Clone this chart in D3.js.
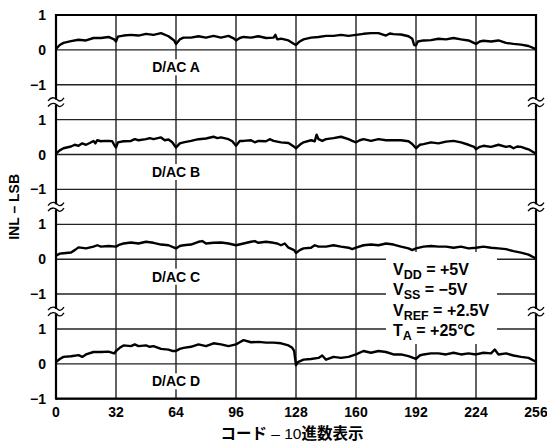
<!DOCTYPE html>
<html>
<head>
<meta charset="utf-8">
<script src="https://cdn.jsdelivr.net/npm/d3@7"></script>
<style>
  html, body { margin: 0; padding: 0; background: #fff; }
  svg { display: block; }
  text { font-family: "Liberation Sans", Arial, "Noto Sans CJK JP", sans-serif; font-weight: bold; fill: #000; }
</style>
</head>
<body>
<svg id="chart" width="547" height="444"></svg>
<script>
// INL (LSB) versus input code for each of the four DAC channels
const panelNames = ["D/AC A", "D/AC B", "D/AC C", "D/AC D"];
const xTicks = [0, 32, 64, 96, 128, 160, 192, 224, 256];
const yTicks = [1, 0, -1];
const yTickLabels = ["1", "0", "\u22121"];
const legendLines = [
  ["V", "DD", " = +5V"],
  ["V", "SS", " = \u22125V"],
  ["V", "REF", " = +2.5V"],
  ["T", "A", " = +25\u00B0C"]
];

const inlA = [[0,0.03],[2,0.14],[4,0.20],[8,0.25],[12,0.29],[16,0.27],[20,0.34],[24,0.34],[28,0.37],[31,0.30],[32,0.24],[33,0.38],[36,0.41],[40,0.43],[44,0.41],[48,0.46],[52,0.43],[56,0.48],[60,0.39],[63,0.27],[64,0.17],[66,0.30],[68,0.35],[72,0.35],[76,0.39],[80,0.35],[84,0.40],[88,0.35],[92,0.40],[95,0.32],[96,0.27],[98,0.34],[100,0.37],[104,0.35],[108,0.39],[112,0.34],[116,0.35],[117,0.43],[118,0.30],[120,0.32],[124,0.27],[127,0.17],[128,0.14],[130,0.24],[132,0.30],[136,0.35],[140,0.37],[144,0.40],[148,0.40],[152,0.43],[156,0.40],[160,0.43],[164,0.46],[168,0.48],[172,0.48],[176,0.41],[178,0.47],[180,0.45],[184,0.44],[188,0.39],[190,0.32],[191,0.14],[192,0.13],[193,0.24],[196,0.27],[200,0.28],[204,0.32],[208,0.30],[212,0.34],[216,0.30],[220,0.27],[224,0.17],[226,0.24],[228,0.26],[232,0.24],[236,0.27],[240,0.20],[244,0.17],[248,0.15],[252,0.11],[256,0.02]];

const inlB = [[0,0.03],[2,0.12],[4,0.18],[8,0.23],[10,0.28],[12,0.25],[14,0.32],[16,0.28],[18,0.33],[20,0.39],[21,0.32],[22,0.41],[24,0.38],[26,0.39],[28,0.39],[30,0.38],[31,0.28],[32,0.20],[33,0.35],[36,0.38],[40,0.39],[42,0.44],[44,0.41],[48,0.44],[50,0.47],[52,0.44],[56,0.49],[58,0.41],[60,0.43],[62,0.35],[64,0.20],[66,0.32],[68,0.35],[72,0.39],[76,0.44],[80,0.46],[84,0.51],[86,0.47],[88,0.49],[92,0.44],[94,0.38],[96,0.25],[98,0.39],[100,0.39],[104,0.41],[106,0.35],[108,0.39],[112,0.38],[114,0.44],[116,0.39],[120,0.35],[124,0.33],[127,0.22],[128,0.18],[130,0.28],[132,0.35],[136,0.41],[138,0.38],[139,0.57],[140,0.44],[142,0.39],[144,0.44],[148,0.47],[152,0.51],[156,0.44],[158,0.39],[160,0.35],[162,0.41],[164,0.44],[168,0.39],[172,0.44],[176,0.41],[180,0.41],[184,0.41],[188,0.38],[190,0.30],[192,0.18],[194,0.28],[196,0.30],[200,0.35],[204,0.32],[208,0.37],[212,0.39],[216,0.35],[220,0.28],[223,0.22],[224,0.15],[226,0.22],[228,0.25],[232,0.22],[236,0.28],[240,0.22],[242,0.24],[244,0.18],[246,0.23],[248,0.22],[250,0.18],[252,0.15],[256,0.02]];

const inlC = [[0,0.10],[2,0.16],[4,0.17],[8,0.19],[10,0.26],[12,0.34],[16,0.31],[20,0.36],[22,0.40],[24,0.36],[28,0.38],[32,0.36],[34,0.42],[36,0.45],[40,0.48],[44,0.45],[48,0.50],[52,0.47],[56,0.42],[60,0.40],[64,0.31],[66,0.38],[68,0.40],[72,0.42],[76,0.50],[78,0.52],[80,0.45],[84,0.47],[88,0.48],[92,0.45],[96,0.40],[100,0.45],[104,0.50],[106,0.52],[108,0.47],[112,0.50],[116,0.47],[118,0.45],[120,0.40],[122,0.45],[124,0.33],[127,0.26],[128,0.18],[130,0.26],[132,0.31],[136,0.33],[138,0.40],[140,0.36],[144,0.36],[148,0.40],[152,0.36],[156,0.33],[158,0.29],[160,0.33],[164,0.40],[168,0.42],[172,0.40],[176,0.45],[180,0.42],[184,0.36],[188,0.31],[190,0.26],[192,0.31],[196,0.36],[200,0.38],[204,0.36],[208,0.36],[212,0.33],[216,0.36],[220,0.31],[224,0.33],[228,0.36],[232,0.33],[236,0.31],[240,0.29],[244,0.23],[248,0.19],[252,0.13],[256,0.02]];

const inlD = [[0,0.05],[2,0.14],[4,0.20],[8,0.22],[12,0.25],[14,0.20],[16,0.27],[20,0.34],[24,0.34],[28,0.35],[31,0.30],[32,0.37],[34,0.46],[36,0.53],[40,0.51],[42,0.56],[44,0.51],[48,0.53],[50,0.49],[52,0.51],[56,0.43],[60,0.41],[62,0.37],[64,0.37],[66,0.43],[68,0.46],[72,0.49],[76,0.56],[80,0.51],[84,0.59],[88,0.56],[92,0.51],[96,0.56],[98,0.62],[100,0.68],[104,0.62],[108,0.63],[112,0.61],[116,0.61],[120,0.59],[124,0.53],[126,0.46],[127,0.37],[128,-0.04],[129,0.05],[132,0.12],[136,0.14],[140,0.17],[142,0.24],[144,0.12],[148,0.20],[152,0.17],[156,0.20],[160,0.27],[164,0.37],[168,0.32],[172,0.37],[176,0.34],[180,0.27],[184,0.27],[188,0.22],[192,0.14],[194,0.24],[196,0.27],[200,0.30],[204,0.30],[208,0.27],[212,0.32],[216,0.27],[220,0.30],[224,0.27],[228,0.32],[232,0.30],[234,0.41],[236,0.27],[240,0.30],[244,0.24],[248,0.20],[252,0.17],[256,0.06]];

const panelData = [inlA, inlB, inlC, inlD];

const svg = d3.select("#chart");
const plotLeft = 56, plotRight = 536, plotTop = 15;
const panelH = 69.7, panelStep = 104.67;
const plotBottom = plotTop + 3 * panelStep + panelH;

const x = d3.scaleLinear().domain([0, 256]).range([plotLeft, plotRight]);
const yScales = panelData.map((_, i) =>
  d3.scaleLinear().domain([-1, 1]).range([plotTop + i * panelStep + panelH, plotTop + i * panelStep]));

const grid = svg.append("g").attr("stroke", "#222").attr("stroke-width", 1.4);

// vertical grid lines run through all four panels
grid.selectAll("line.v")
  .data(xTicks.slice(1, -1))
  .join("line")
  .attr("x1", d => x(d)).attr("x2", d => x(d))
  .attr("y1", plotTop).attr("y2", plotBottom);

// horizontal lines at +1, 0, -1 in each panel
yScales.forEach((y, i) => {
  grid.selectAll("line.h" + i)
    .data(yTicks)
    .join("line")
    .attr("x1", plotLeft).attr("x2", plotRight)
    .attr("y1", d => y(d)).attr("y2", d => y(d));
});

// curves
panelData.forEach((data, i) => {
  const line = d3.line().x(d => x(d[0])).y(d => yScales[i](d[1]));
  svg.append("path")
    .datum(data)
    .attr("fill", "none")
    .attr("stroke", "#000")
    .attr("stroke-width", 2.4)
    .attr("stroke-linejoin", "round")
    .attr("d", line);
});

// frame
const frame = svg.append("g").attr("stroke", "#000").attr("stroke-width", 2.2);
frame.append("line").attr("x1", plotLeft).attr("x2", plotLeft).attr("y1", plotTop - 1).attr("y2", plotBottom + 1);
frame.append("line").attr("x1", plotRight).attr("x2", plotRight).attr("y1", plotTop - 1).attr("y2", plotBottom + 1);
frame.append("line").attr("x1", plotLeft).attr("x2", plotRight).attr("y1", plotTop).attr("y2", plotTop);
frame.append("line").attr("x1", plotLeft).attr("x2", plotRight).attr("y1", plotBottom).attr("y2", plotBottom);

// axis break marks between panels
for (let i = 0; i < 3; i++) {
  const yb = (yScales[i](-1) + yScales[i + 1](1)) / 2;
  [plotLeft, plotRight].forEach(xb => {
    const g = svg.append("g").attr("transform", `translate(${xb},${yb})`);
    g.append("rect").attr("x", -3).attr("y", -2.5).attr("width", 6).attr("height", 5).attr("fill", "#fff");
    [-2.8, 2.8].forEach(o => {
      g.append("path")
        .attr("d", `M-8,${o + 1.5} C-4,${o - 3.8} 0,${o - 1} 1,${o} S4.5,${o + 3.8} 8,${o - 1.5}`)
        .attr("fill", "none").attr("stroke", "#000").attr("stroke-width", 1.3);
    });
  });
}

// y tick labels
yScales.forEach((y, i) => {
  svg.selectAll("text.yt" + i)
    .data(yTicks)
    .join("text")
    .attr("class", "yt" + i)
    .attr("x", 46)
    .attr("y", d => y(d))
    .attr("dy", "0.36em")
    .attr("text-anchor", "end")
    .attr("font-size", 14)
    .text((d, j) => yTickLabels[j]);
});

// x tick labels
svg.selectAll("text.xt")
  .data(xTicks)
  .join("text")
  .attr("class", "xt")
  .attr("x", d => x(d))
  .attr("y", 417)
  .attr("text-anchor", "middle")
  .attr("font-size", 14)
  .text(d => d);

// panel labels on white patches
panelNames.forEach((name, i) => {
  const cy = (yScales[i](0) + yScales[i](-1)) / 2;
  const t = svg.append("text")
    .attr("x", x(64)).attr("y", cy).attr("dy", "0.36em")
    .attr("text-anchor", "middle").attr("font-size", 14)
    .text(name);
  const bb = t.node().getBBox();
  svg.insert("rect", () => t.node())
    .attr("x", bb.x - 3).attr("y", bb.y).attr("width", bb.width + 6).attr("height", bb.height)
    .attr("fill", "#fff");
});

// conditions box
const lg = svg.append("g");
lg.append("rect").attr("x", 386).attr("y", 252).attr("width", 111).attr("height", 92).attr("fill", "#fff");
legendLines.forEach((parts, i) => {
  const t = lg.append("text").attr("x", 393).attr("y", 275 + i * 20.3).attr("font-size", 16);
  t.append("tspan").text(parts[0]);
  t.append("tspan").attr("dy", 4).attr("font-size", 12.5).text(parts[1]);
  t.append("tspan").attr("dy", -4).text(parts[2]);
});

// axis titles
svg.append("text")
  .attr("transform", `translate(19,${(plotTop + plotBottom) / 2}) rotate(-90)`)
  .attr("text-anchor", "middle").attr("font-size", 14)
  .text("INL \u2013 LSB");

const xt = svg.append("text")
  .attr("x", 292).attr("y", 439)
  .attr("text-anchor", "middle").attr("font-size", 15.5);
xt.append("tspan").attr("font-family", "'Noto Sans CJK JP', sans-serif").text("コード");
xt.append("tspan").attr("font-weight", "normal").text(" \u2013 10");
xt.append("tspan").attr("font-family", "'Noto Sans CJK JP', sans-serif").text("進数表示");
</script>
</body>
</html>
